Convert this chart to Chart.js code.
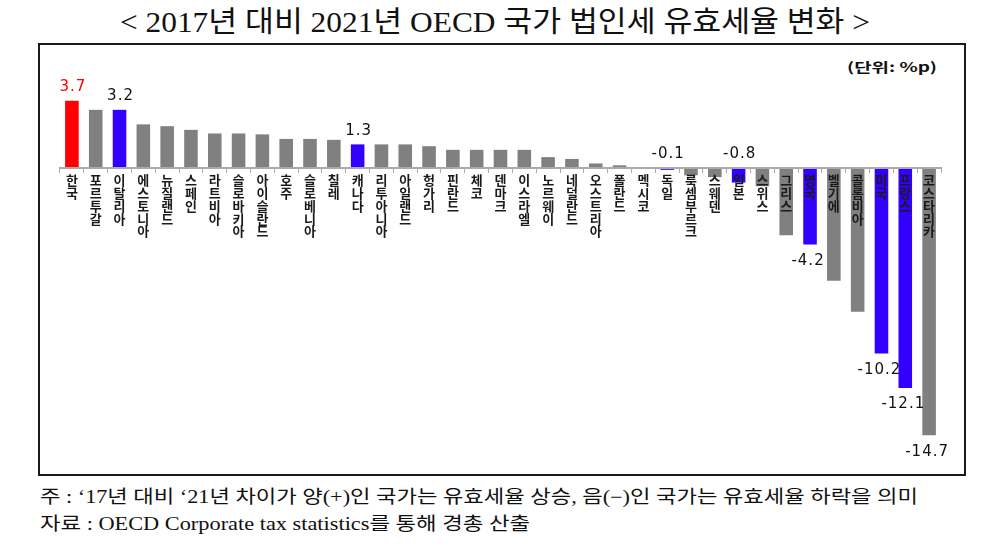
<!DOCTYPE html>
<html>
<head>
<meta charset="utf-8">
<script src="https://cdn.jsdelivr.net/npm/chart.js@4"></script>
<style>
html, body { margin: 0; padding: 0; background: #fff; }
body { width: 1000px; height: 548px; position: relative; overflow: hidden; }
.txt { position: absolute; white-space: nowrap; color: #111; }
.txt span { display: inline-block; transform-origin: left center; }
#title { top: -2px; left: 120px; font-family: "Liberation Serif", "Noto Sans CJK KR", serif; font-size: 29px; }
#note1 { top: 482px; left: 40px; font-family: "Liberation Serif", "Noto Sans CJK KR", serif; font-size: 18px; }
#note2 { top: 509px; left: 40px; font-family: "Liberation Serif", "Noto Sans CJK KR", serif; font-size: 18px; }
#unit { top: 57px; left: 847px; font-family: "Noto Sans CJK KR", sans-serif; font-weight: bold; font-size: 13px; }
#box { position: absolute; left: 38px; top: 43px; width: 924px; height: 429px; border: 2px solid #1a1a1a; }
#wrap { position: absolute; left: 0; top: 0; width: 1000px; height: 548px; }
</style>
</head>
<body>
<div id="box"></div>
<div class="txt" id="title"><span data-w="750">&lt; 2017년 대비 2021년 OECD 국가 법인세 유효세율 변화 &gt;</span></div>
<div class="txt" id="unit"><span data-w="90">(단위: %p)</span></div>
<div class="txt" id="note1"><span data-w="878">주 : ‘17년 대비 ‘21년 차이가 양(+)인 국가는 유효세율 상승, 음(−)인 국가는 유효세율 하락을 의미</span></div>
<div class="txt" id="note2"><span data-w="490">자료 : OECD Corporate tax statistics를 통해 경총 산출</span></div>
<div id="wrap"><canvas id="myChart" width="1000" height="548"></canvas></div>
<script>
// squeeze the texts to the widths in the picture
for (const s of document.querySelectorAll('.txt span')) {
    const w = s.getBoundingClientRect().width
    s.style.transform = 'scaleX(' + (parseFloat(s.dataset.w) / w) + ')'
}

// Data (%p change of effective corporate tax rate, 2017 -> 2021)
const countries = ['한국', '포르투갈', '이탈리아', '에스토니아', '뉴질랜드', '스페인', '라트비아', '슬로바키아',
    '아이슬란드', '호주', '슬로베니아', '칠레', '캐나다', '리투아니아', '아일랜드', '헝가리', '핀란드', '체코',
    '덴마크', '이스라엘', '노르웨이', '네덜란드', '오스트리아', '폴란드', '멕시코', '독일', '룩셈부르크', '스웨덴',
    '일본', '스위스', '그리스', '영국', '벨기에', '콜롬비아', '미국', '프랑스', '코스타리카']
const changes = [3.7, 3.2, 3.2, 2.4, 2.3, 2.1, 1.9, 1.9, 1.85, 1.6, 1.6, 1.55, 1.3, 1.3, 1.3, 1.2, 1.0, 1.0,
    1.0, 1.0, 0.6, 0.5, 0.25, 0.15, 0, -0.1, -0.4, -0.5, -0.8, -1.0, -3.7, -4.2, -6.2, -7.9, -10.2, -12.1, -14.7]
const redCountries = ['한국']
const blueCountries = ['이탈리아', '캐나다', '독일', '일본', '영국', '미국', '프랑스']
const labeledCountries = ['한국', '이탈리아', '캐나다', '독일', '일본', '영국', '미국', '프랑스', '코스타리카']

const barColors = countries.map(c =>
    redCountries.includes(c) ? '#ff0000' : blueCountries.includes(c) ? '#3300ff' : '#808080')

/* value labels above / below the bars */
const valueLabels = {
    id: 'valueLabels',
    afterDatasetsDraw(chart) {
        const ctx = chart.ctx
        const meta = chart.getDatasetMeta(0)
        const zero = chart.scales.y.getPixelForValue(0)
        ctx.save()
        ctx.font = '15px "DejaVu Sans"'
        ctx.letterSpacing = '1px'
        ctx.textAlign = 'center'
        countries.forEach((c, i) => {
            if (!labeledCountries.includes(c)) return
            const v = changes[i]
            const bar = meta.data[i]
            const text = v.toFixed(1)
            ctx.fillStyle = redCountries.includes(c) ? '#ff0000' : '#111'
            if (v > -1) {
                ctx.textBaseline = 'bottom'
                ctx.fillText(text, bar.x + 1, Math.min(bar.y, zero) - 6)
            } else {
                ctx.textBaseline = 'top'
                ctx.fillText(text, bar.x - 2, bar.y + 9)
            }
        })
        ctx.restore()
    }
}

const ctx = document.getElementById('myChart')
const myChart = new Chart(ctx, {
    type: 'bar',
    data: {
        labels: countries,
        datasets: [{
            data: changes,
            backgroundColor: barColors,
            borderWidth: 0,
            barPercentage: 0.57,
            categoryPercentage: 1
        }]
    },
    options: {
        responsive: false,
        animation: false,
        layout: {
            padding: { left: 60, right: 59, top: 68, bottom: 89 }
        },
        plugins: {
            legend: { display: false },
            tooltip: { enabled: false }
        },
        scales: {
            x: {
                position: { y: 0 },
                offset: true,
                afterFit: (scale) => { scale.height = 0 },
                grid: {
                    display: true,
                    offset: true,
                    drawOnChartArea: false,
                    drawTicks: true,
                    tickLength: 4,
                    color: '#aaaaaa',
                    z: 1
                },
                border: { display: true, color: '#aaaaaa', width: 2, z: 1 },
                ticks: {
                    z: 1,
                    autoSkip: false,
                    maxRotation: 0,
                    minRotation: 0,
                    padding: 2,
                    color: '#1a1a1a',
                    font: { family: '"Noto Sans CJK KR"', size: 13, weight: 'bold', lineHeight: 0.98 },
                    callback: (v, i) => countries[i].split('')
                }
            },
            y: {
                display: false,
                min: -16,
                max: 5.5
            }
        }
    },
    plugins: [valueLabels]
})
</script>
</body>
</html>
